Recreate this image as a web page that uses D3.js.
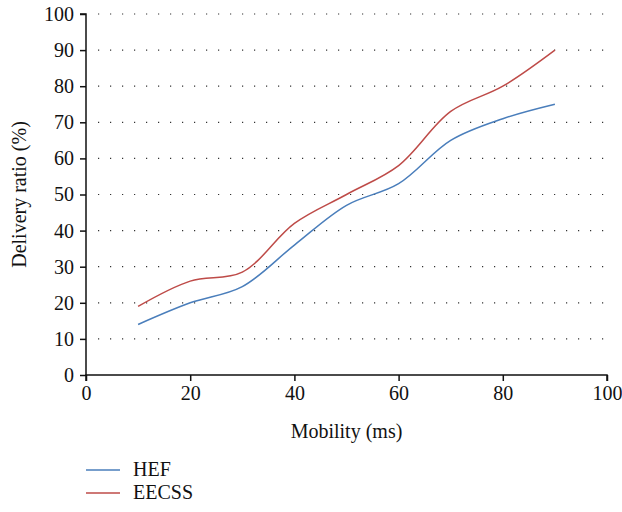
<!DOCTYPE html>
<html><head><meta charset="utf-8">
<script src="https://cdn.jsdelivr.net/npm/d3@7"></script>
<style>body{margin:0;background:#fff}svg{display:block}</style>
</head><body><svg id="c" width="622" height="512"></svg>
<script>
const mobility = [10, 20, 30, 40, 50, 60, 70, 80, 90];
const hef = [14, 20, 24.5, 36, 47, 53, 65, 71, 75];
const eecss = [19, 26, 28.5, 42, 50, 58, 73, 80, 90];
const seriesNames = ["HEF", "EECSS"];
const seriesColors = ["#4a7ebb", "#be4b48"];
const xTicks = [0, 20, 40, 60, 80, 100];
const yTicks = [0, 10, 20, 30, 40, 50, 60, 70, 80, 90, 100];

const FONT = "'Liberation Serif', 'Times New Roman', serif";
const FS = "20px";
const svg = d3.select("#c");
const m = {l: 86, r: 15, t: 14, b: 137};
const W = 622, H = 512;
const x = d3.scaleLinear().domain([0, 100]).range([m.l, W - m.r]);
const y = d3.scaleLinear().domain([0, 100]).range([H - m.b, m.t]);

// grid
svg.append("g").selectAll("line").data(yTicks.filter(d => d > 0)).join("line")
  .attr("x1", x(0) + 12).attr("x2", x(100)).attr("y1", d => y(d)).attr("y2", d => y(d))
  .attr("stroke", "#333").attr("stroke-width", 1.2).attr("stroke-dasharray", "1.2,10.8");

const xa = svg.append("g").attr("transform", `translate(0,${y(0)})`)
  .call(d3.axisBottom(x).tickValues(xTicks).tickSize(6).tickPadding(5));
const ya = svg.append("g").attr("transform", `translate(${x(0)},0)`)
  .call(d3.axisLeft(y).tickValues(yTicks).tickSize(6).tickPadding(6));
[xa, ya].forEach(a => {
  a.attr("font-family", null).attr("font-size", null);
  a.selectAll("path").attr("stroke", "#111").attr("stroke-width", 1.5);
  a.selectAll("line").attr("stroke", "#111").attr("stroke-width", 1.5);
  a.selectAll("text").style("font-size", FS).style("font-family", FONT).attr("fill", "#111");
});
xa.select(".domain").attr("d", `M${x(0)},6V0H${x(100)}V6`);
ya.select(".domain").attr("d", `M-6,${y(100)}H0V${y(0)}`);

const line = d3.line().curve(d3.curveCatmullRom.alpha(0.5));
[hef, eecss].forEach((s, i) => {
  svg.append("path").attr("d", line(mobility.map((v, j) => [x(v), y(s[j])])))
    .attr("fill", "none").attr("stroke", seriesColors[i]).attr("stroke-width", 1.5);
});

svg.append("text").attr("x", (x(0) + x(100)) / 2).attr("y", 438).attr("text-anchor", "middle")
  .style("font-size", FS).style("font-family", FONT).attr("fill", "#111").text("Mobility (ms)");
svg.append("text").attr("transform", `translate(26,${(y(0) + y(100)) / 2}) rotate(-90)`)
  .attr("text-anchor", "middle").style("font-size", FS).style("font-family", FONT).attr("fill", "#111")
  .text("Delivery ratio (%)");

seriesNames.forEach((n, i) => {
  const yy = 470 + i * 23;
  svg.append("line").attr("x1", 86).attr("x2", 120).attr("y1", yy).attr("y2", yy)
    .attr("stroke", seriesColors[i]).attr("stroke-width", 1.5);
  svg.append("text").attr("x", 133).attr("y", yy + 6).style("font-size", FS)
    .style("font-family", FONT).attr("fill", "#111").text(n);
});
</script></body></html>
